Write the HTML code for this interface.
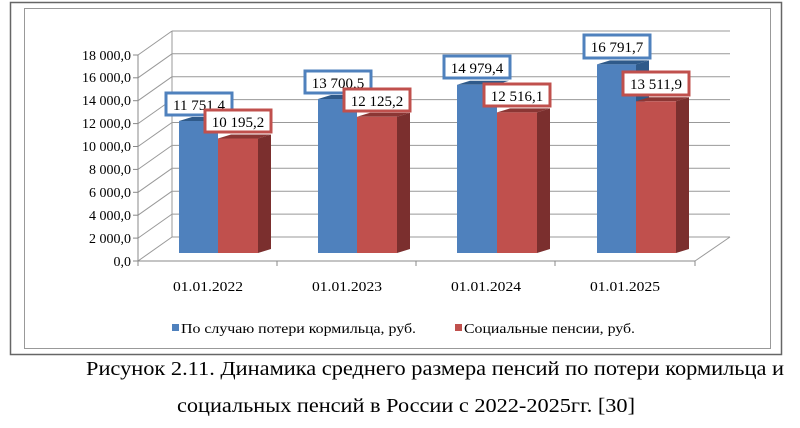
<!DOCTYPE html>
<html><head><meta charset="utf-8"><style>
body{margin:0;background:#fff;width:800px;height:428px;overflow:hidden}
svg{display:block}
text{font-family:"Liberation Serif",serif;fill:#000}
</style></head><body>
<svg width="800" height="428" viewBox="0 0 800 428">
<rect x="10.5" y="2.5" width="771" height="352" fill="#fff" stroke="#666" stroke-width="1.5"/>
<rect x="24.5" y="8.5" width="746" height="340" fill="none" stroke="#999" stroke-width="1"/>
<g stroke="#999" stroke-width="1" fill="none">
<line x1="172" y1="237" x2="730" y2="237"/><line x1="172" y1="214.1" x2="730" y2="214.1"/><line x1="172" y1="191.2" x2="730" y2="191.2"/><line x1="172" y1="168.3" x2="730" y2="168.3"/><line x1="172" y1="145.4" x2="730" y2="145.4"/><line x1="172" y1="122.5" x2="730" y2="122.5"/><line x1="172" y1="99.6" x2="730" y2="99.6"/><line x1="172" y1="76.7" x2="730" y2="76.7"/><line x1="172" y1="53.8" x2="730" y2="53.8"/><line x1="172" y1="31" x2="730" y2="31"/>
<line x1="138" y1="261" x2="172" y2="237"/><line x1="138" y1="238.1" x2="172" y2="214.1"/><line x1="138" y1="215.2" x2="172" y2="191.2"/><line x1="138" y1="192.3" x2="172" y2="168.3"/><line x1="138" y1="169.4" x2="172" y2="145.4"/><line x1="138" y1="146.5" x2="172" y2="122.5"/><line x1="138" y1="123.6" x2="172" y2="99.6"/><line x1="138" y1="100.7" x2="172" y2="76.7"/><line x1="138" y1="77.8" x2="172" y2="53.8"/><line x1="138" y1="55" x2="172" y2="31"/>
<line x1="172" y1="31" x2="172" y2="237"/>
<line x1="695" y1="261" x2="730" y2="237"/>
</g>
<g stroke="#888" stroke-width="1">
<line x1="138" y1="55" x2="138" y2="261"/><line x1="138" y1="261" x2="695" y2="261"/>
<line x1="133" y1="261" x2="138" y2="261"/><line x1="133" y1="238.1" x2="138" y2="238.1"/><line x1="133" y1="215.2" x2="138" y2="215.2"/><line x1="133" y1="192.3" x2="138" y2="192.3"/><line x1="133" y1="169.4" x2="138" y2="169.4"/><line x1="133" y1="146.5" x2="138" y2="146.5"/><line x1="133" y1="123.6" x2="138" y2="123.6"/><line x1="133" y1="100.7" x2="138" y2="100.7"/><line x1="133" y1="77.8" x2="138" y2="77.8"/><line x1="133" y1="55" x2="138" y2="55"/>
<line x1="138" y1="261" x2="138" y2="266"/><line x1="277" y1="261" x2="277" y2="266"/><line x1="416" y1="261" x2="416" y2="266"/><line x1="555" y1="261" x2="555" y2="266"/><line x1="695" y1="261" x2="695" y2="266"/>
</g>
<g font-size="14" text-anchor="end">
<text x="131" y="266">0,0</text><text x="131" y="243">2 000,0</text><text x="131" y="220">4 000,0</text><text x="131" y="197">6 000,0</text><text x="131" y="174">8 000,0</text><text x="131" y="151">10 000,0</text><text x="131" y="128">12 000,0</text><text x="131" y="105">14 000,0</text><text x="131" y="82">16 000,0</text><text x="131" y="60">18 000,0</text>
</g>
<g>
<polygon points="179,121 192,117 231,117 218,121" fill="#2F5A8A"/>
<rect x="179" y="121" width="39" height="132" fill="#4F81BD"/>
<polygon points="218,138.5 231,134.5 271,134.5 258,138.5" fill="#8B3634"/>
<polygon points="258,138.5 271,134.5 271,249 258,253" fill="#7B2F2E"/>
<rect x="218" y="138.5" width="40" height="114.5" fill="#C0504D"/>
<polygon points="318,99 331,95 370,95 357,99" fill="#2F5A8A"/>
<rect x="318" y="99" width="39" height="154" fill="#4F81BD"/>
<polygon points="357,116.8 370,112.8 410,112.8 397,116.8" fill="#8B3634"/>
<polygon points="397,116.8 410,112.8 410,249 397,253" fill="#7B2F2E"/>
<rect x="357" y="116.8" width="40" height="136.2" fill="#C0504D"/>
<polygon points="457,84.8 470,80.8 509,80.8 496,84.8" fill="#2F5A8A"/>
<rect x="457" y="84.8" width="40" height="168.2" fill="#4F81BD"/>
<polygon points="497,112.4 510,108.4 550,108.4 537,112.4" fill="#8B3634"/>
<polygon points="537,112.4 550,108.4 550,249 537,253" fill="#7B2F2E"/>
<rect x="497" y="112.4" width="40" height="140.6" fill="#C0504D"/>
<polygon points="597,64.4 610,60.4 649,60.4 636,64.4" fill="#2F5A8A"/>
<polygon points="636,64.4 649,60.4 649,100 636,104" fill="#2F5A8A"/>
<rect x="597" y="64.4" width="39" height="188.6" fill="#4F81BD"/>
<polygon points="636,101.3 649,97.3 689,97.3 676,101.3" fill="#8B3634"/>
<polygon points="676,101.3 689,97.3 689,249 676,253" fill="#7B2F2E"/>
<rect x="636" y="101.3" width="40" height="151.7" fill="#C0504D"/>
</g>
<g font-size="15" text-anchor="middle" stroke-width="3">
<rect x="166" y="93" width="66" height="22" fill="#fff" stroke="#4F81BD"/><text x="199" y="110">11 751,4</text>
<rect x="205" y="110" width="66" height="22" fill="#fff" stroke="#C0504D"/><text x="238" y="127">10 195,2</text>
<rect x="305" y="71" width="66" height="22" fill="#fff" stroke="#4F81BD"/><text x="338" y="88">13 700,5</text>
<rect x="344" y="89" width="66" height="22" fill="#fff" stroke="#C0504D"/><text x="377" y="106">12 125,2</text>
<rect x="444" y="56" width="66" height="22" fill="#fff" stroke="#4F81BD"/><text x="477" y="73">14 979,4</text>
<rect x="484" y="84" width="66" height="22" fill="#fff" stroke="#C0504D"/><text x="517" y="101">12 516,1</text>
<rect x="584" y="35" width="66" height="23" fill="#fff" stroke="#4F81BD"/><text x="617" y="52">16 791,7</text>
<rect x="623" y="72" width="66" height="23" fill="#fff" stroke="#C0504D"/><text x="656" y="89">13 511,9</text>
</g>
<g font-size="14" text-anchor="middle">
<text x="208" y="291" textLength="70" lengthAdjust="spacingAndGlyphs">01.01.2022</text><text x="347" y="291" textLength="70" lengthAdjust="spacingAndGlyphs">01.01.2023</text><text x="486" y="291" textLength="70" lengthAdjust="spacingAndGlyphs">01.01.2024</text><text x="625" y="291" textLength="70" lengthAdjust="spacingAndGlyphs">01.01.2025</text>
</g>
<rect x="172" y="324" width="7" height="7" fill="#4F81BD"/>
<text x="181" y="333" font-size="14" textLength="235" lengthAdjust="spacingAndGlyphs">По случаю потери кормильца, руб.</text>
<rect x="455" y="324" width="7" height="7" fill="#C0504D"/>
<text x="464" y="333" font-size="14" textLength="171" lengthAdjust="spacingAndGlyphs">Социальные пенсии, руб.</text>
<text x="435" y="375" font-size="20" text-anchor="middle" textLength="698" lengthAdjust="spacingAndGlyphs">Рисунок 2.11. Динамика среднего размера пенсий по потери кормильца и</text>
<text x="406" y="412" font-size="20" text-anchor="middle" textLength="458" lengthAdjust="spacingAndGlyphs">социальных пенсий в России с 2022-2025гг. [30]</text>
</svg>
</body></html>
